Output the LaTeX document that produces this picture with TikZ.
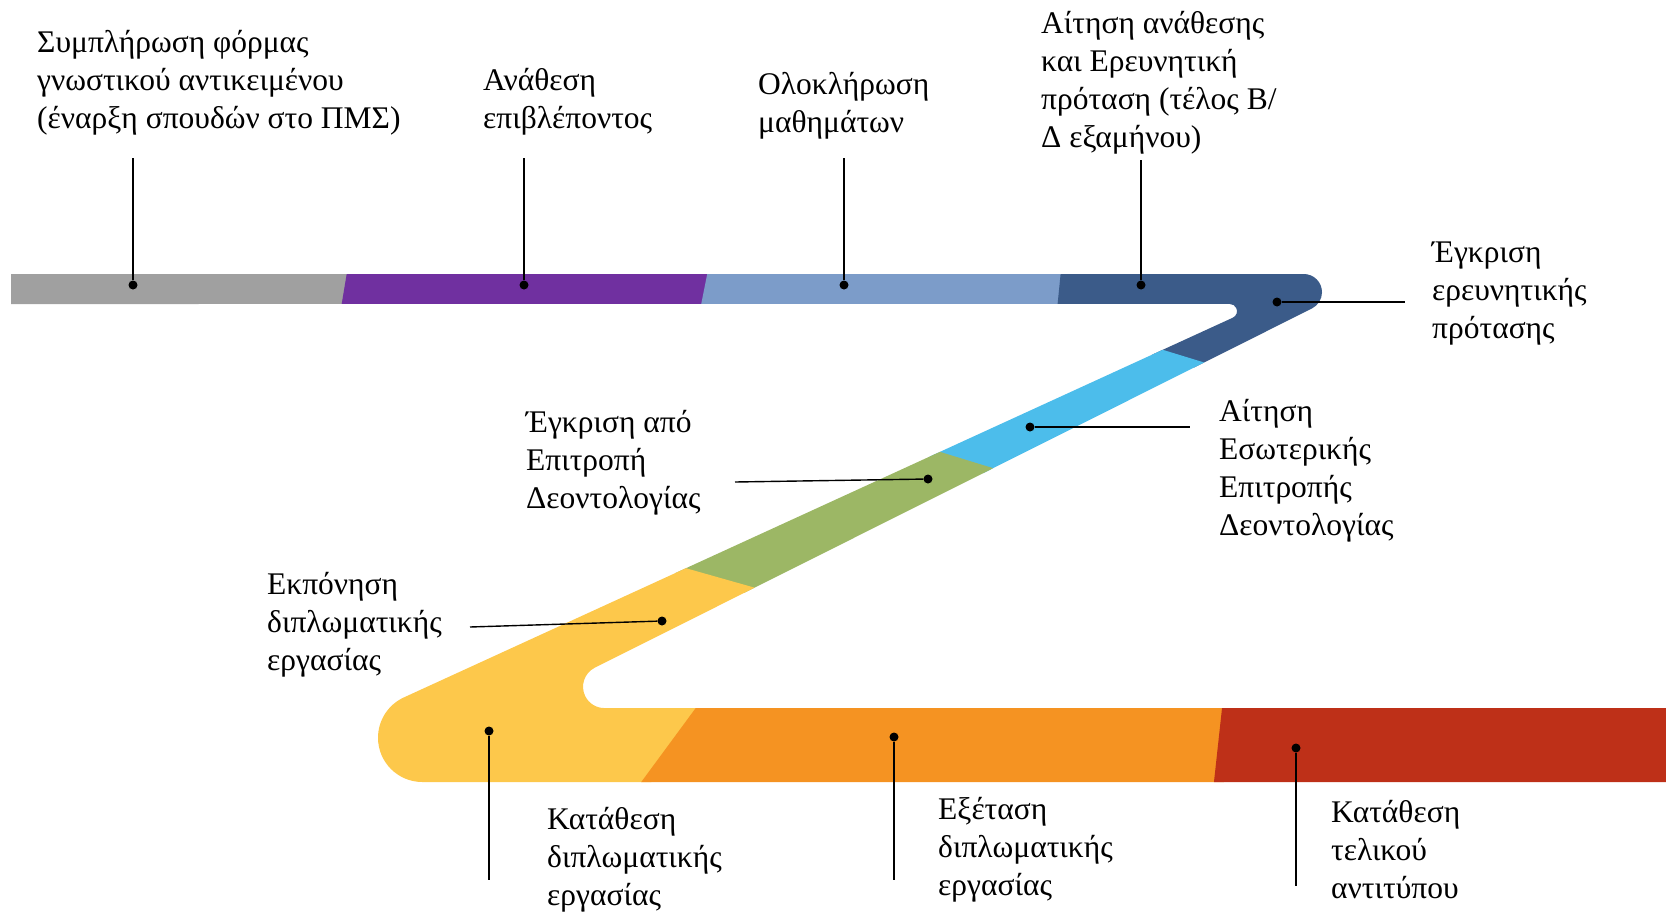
\documentclass[tikz,border=0pt]{standalone}
\usepackage{fontspec}
\setmainfont{Liberation Serif}
\usepackage{tikz}
\usepackage{color}
\definecolor{cgray}{HTML}{A0A0A0}
\definecolor{cpurple}{HTML}{7030A0}
\definecolor{csteel}{HTML}{7C9CC9}
\definecolor{cnavy}{HTML}{3B5B89}
\definecolor{csky}{HTML}{4CBDEB}
\definecolor{cgreen}{HTML}{9CB765}
\definecolor{cyellow}{HTML}{FDC84B}
\definecolor{corange}{HTML}{F59322}
\definecolor{cred}{HTML}{BE3018}

\begin{document}
\begin{tikzpicture}[x=1pt,y={(0pt,-1pt)}]
\tikzstyle{dot node}=[circle,fill=black,inner sep=0,minimum size=9pt]
\tikzstyle{step text}=[anchor=west,align=left,inner sep=0,font=\fontsize{31.5}{38}\selectfont]
\tikzset{
  lead/.style = {draw=black,line width=1.4pt}
}

\useasboundingbox (0,0) rectangle (1666,913);

% the ribbon
\begin{scope}
\clip (11,274) -- (1303.8,274) arc[start angle=-90,end angle=63.4,radius=18.2]
  -- (594.8,667.7) arc[start angle=243.4,end angle=90,radius=21.3]
  -- (1680,708) -- (1680,782)
  -- (422.3,782) arc[start angle=90,end angle=245.4,radius=44.3]
  -- (1232.8,317.7) arc[start angle=65.4,end angle=-90,radius=7.19]
  -- (11,304) -- cycle;
\fill[cgray]   (0,260) -- (360,260) -- (350,320) -- (0,320) -- cycle;
\fill[cpurple] (349,260) -- (720,260) -- (708,320) -- (339,320) -- cycle;
\fill[csteel]  (710,260) -- (1072,260) -- (1066,320) -- (698,320) -- cycle;
\fill[cnavy]   (1062,260) -- (1700,260) -- (1700,400) -- (1222,376) -- (1124,346) -- (1056,320) -- cycle;
\fill[csky]    (1134,341) -- (1232,371) -- (1012,482) -- (901,448) -- cycle;
\fill[cgreen]  (911,443) -- (1022,477) -- (774,601) -- (647,565) -- cycle;
\fill[cyellow] (657,560) -- (784,596) -- (719,690) -- (638,800) -- (150,800) -- (150,500) -- cycle;
\fill[corange] (709,690) -- (1234,690) -- (1222,800) -- (628,800) -- cycle;
\fill[cred]    (1224,690) -- (1700,690) -- (1700,800) -- (1212,800) -- cycle;
\end{scope}

\node[dot node] (form) at (133,285) {};
\node[dot node] (sup)  at (524,285) {};
\node[dot node] (crs)  at (844,285) {};
\node[dot node] (req)  at (1141,285) {};
\node[dot node] (appr) at (1277,302) {};
\node[dot node] (ereq) at (1030,427) {};
\node[dot node] (eok)  at (928,479) {};
\node[dot node] (work) at (662,621) {};
\node[dot node] (sub)  at (489,731) {};
\node[dot node] (exam) at (894,737) {};
\node[dot node] (fin)  at (1296,748) {};

\coordinate (form-e) at (133,158);
\coordinate (sup-e)  at (524,158);
\coordinate (crs-e)  at (844,158);
\coordinate (req-e)  at (1141,160);
\coordinate (appr-e) at (1405,302);
\coordinate (ereq-e) at (1190,427);
\coordinate (eok-e)  at (735,482);
\coordinate (work-e) at (470,627);
\coordinate (sub-e)  at (489,880);
\coordinate (exam-e) at (894,880);
\coordinate (fin-e)  at (1296,886);

\node[step text] (form-t) at (37,83)    {Συμπλήρωση φόρμας\\γνωστικού αντικειμένου\\(έναρξη σπουδών στο ΠΜΣ)};
\node[step text] (sup-t)  at (483,102)  {Ανάθεση\\επιβλέποντος};
\node[step text] (crs-t)  at (758,106)  {Ολοκλήρωση\\μαθημάτων};
\node[step text] (req-t)  at (1041,83)  {Αίτηση ανάθεσης\\και Ερευνητική\\πρόταση (τέλος Β/\\Δ εξαμήνου)};
\node[step text] (appr-t) at (1432,294) {Έγκριση\\ερευνητικής\\πρότασης};
\node[step text] (ereq-t) at (1219,471) {Αίτηση\\Εσωτερικής\\Επιτροπής\\Δεοντολογίας};
\node[step text] (eok-t)  at (526,463)  {Έγκριση από\\Επιτροπή\\Δεοντολογίας};
\node[step text] (work-t) at (267,625)  {Εκπόνηση\\διπλωματικής\\εργασίας};
\node[step text] (sub-t)  at (547,860)  {Κατάθεση\\διπλωματικής\\εργασίας};
\node[step text] (exam-t) at (938,850)  {Εξέταση\\διπλωματικής\\εργασίας};
\node[step text] (fin-t)  at (1331,850) {Κατάθεση\\τελικού\\αντιτύπου};

\path[lead]
    (form) edge (form-e)
    (sup)  edge (sup-e)
    (crs)  edge (crs-e)
    (req)  edge (req-e)
    (appr) edge (appr-e)
    (ereq) edge (ereq-e)
    (eok)  edge (eok-e)
    (work) edge (work-e)
    (sub)  edge (sub-e)
    (exam) edge (exam-e)
    (fin)  edge (fin-e);
\end{tikzpicture}
\end{document}
